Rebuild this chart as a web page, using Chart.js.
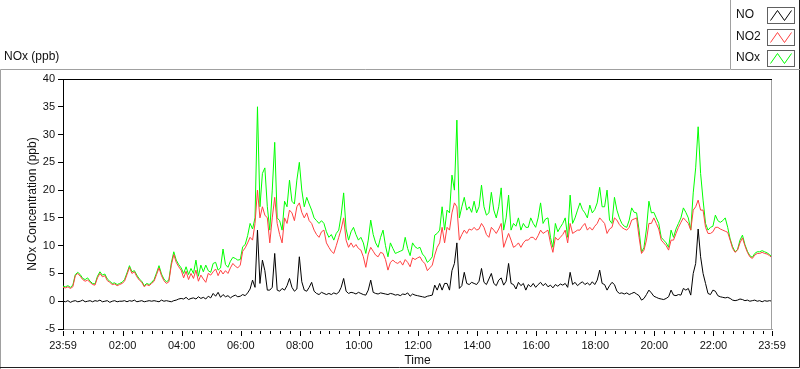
<!DOCTYPE html>
<html>
<head>
<meta charset="utf-8">
<script src="https://cdn.jsdelivr.net/npm/chart.js@4/dist/chart.umd.min.js"></script>
<style>
  body { margin: 0; background: #fff; }
  canvas { display: block; }
</style>
</head>
<body>
<canvas id="nox" width="800" height="369"></canvas>
<script>
// one sample every 5 minutes, starting at 23:59 of the previous day
var stepMinutes = 5;

var seriesNames = ['NO', 'NO2', 'NOx'];
var seriesColors = ['#000000', '#ff4040', '#00ff00'];

var noValues = [
  0, -0.1, 0.1, -0.2, 0, 0.1, -0.1, 0, 0.2, -0.1, 0, 0.1,
  -0.1, 0.1, 0, 0.2, -0.1, 0, 0.1, -0.2, 0, 0.1, -0.1, 0,
  0, 0.1, -0.1, 0.1, 0, 0.2, -0.1, 0, 0.1, -0.1, 0, 0.1,
  0, 0.1, 0, -0.1, 0.2, 0, 0.1, 0, -0.1, 0.1, 0.2, 0.4,
  0.5, 0.4, 0.7, 0.3, 0.5, 0.6, 0.4, 0.8, 0.5, 0.7, 0.4, 0.9,
  0.6, 1.4, 0.9, 1.6, 0.7, 1.2, 0.8, 1.0, 0.6, 0.9, 1.1, 0.8,
  0.9, 1.2, 1.0, 1.5, 2.2, 3.8, 2.5, 12.8, 3.2, 7.4, 5.5, 2.0,
  2.0, 2.5, 8.6, 2.0, 1.8, 2.3, 2.0, 2.8, 4.1, 2.5, 1.8, 2.2,
  8.0, 3.5, 2.0, 1.8, 2.5, 3.4, 1.8, 1.4, 1.2, 1.6, 1.4, 1.2,
  1.4, 1.2, 1.5, 1.3, 1.6, 2.5, 4.1, 1.8, 1.4, 1.6, 1.5, 1.3,
  1.6, 1.4, 1.2, 1.1, 2.0, 3.8, 1.6, 1.4, 1.3, 1.5, 1.4, 1.3,
  1.2, 1.4, 1.3, 1.1, 1.2, 1.0, 1.3, 1.2, 1.5, 0.9, 1.3, 1.1,
  1.0, 0.9, 0.8, 0.7, 0.9, 1.0, 1.1, 2.9, 2.0, 3.2, 2.0, 3.2,
  3.2, 2.0, 5.5, 6.8, 10.5, 2.3, 2.8, 5.2, 3.2, 3.0, 3.4, 3.2,
  3.0, 3.6, 5.9, 3.4, 3.0, 4.0, 5.0, 3.2, 2.8, 3.8, 4.2, 2.9,
  3.6, 6.8, 3.2, 3.0, 2.2, 3.4, 2.8, 3.2, 2.0, 3.0, 2.6, 3.2,
  2.5, 3.0, 3.4, 2.8, 3.2, 2.6, 2.9, 2.4, 3.0, 2.7, 3.1, 2.9,
  3.2, 2.5, 5.2, 3.0, 3.4, 2.8, 3.2, 3.5, 3.0, 3.3, 2.9, 3.5,
  3.0, 3.8, 5.6, 3.2, 3.0, 2.0, 2.8, 3.4, 3.0, 1.8, 1.4, 1.5,
  1.3, 1.5, 1.2, 1.4, 1.6, 1.3, 1.0, 0.2, 0.5, 1.2, 2.0, 1.5,
  0.9, 0.7, 0.5, 0.4, 0.3, 0.5, 0.8, 2.0, 1.1, 1.0, 1.2, 1.1,
  2.3, 2.0, 2.3, 1.1, 5.0, 6.8, 13.0, 8.0, 5.0, 3.2, 1.4, 1.2,
  2.0, 1.8, 1.0, 0.8, 0.7, 0.6, 0.7, 0.5, 0.2, 0.1, 0.2, 0.4,
  0.3, 0.1, 0.2, 0.0, 0.1, 0.2, 0.0, 0.1, -0.1, 0.1, 0.0, 0.1, 0.0
];

var no2Values = [
  2.5, 2.4, 2.6, 2.3, 2.6, 4.6, 5.0, 4.5, 3.9, 3.6, 3.8, 3.4,
  3.0, 2.9, 4.2, 5.0, 4.4, 4.6, 3.7, 3.4, 3.0, 3.1, 2.8, 3.0,
  3.2, 3.6, 4.8, 6.1, 5.0, 5.3, 4.4, 3.8, 3.4, 2.6, 3.0, 2.8,
  3.2, 3.6, 4.8, 6.0, 4.6, 3.7, 3.2, 3.5, 6.5, 8.4, 7.0, 6.2,
  5.6, 4.2, 5.4, 3.9, 5.0, 4.1, 5.6, 3.6, 4.7, 4.0, 3.4, 5.0,
  4.7, 5.3, 5.8, 4.6, 5.6, 4.9, 5.5, 5.0, 6.0, 6.8, 6.3, 6.0,
  6.5, 9.0, 9.6, 10.5, 11.5, 11.0, 14.0, 20.0, 15.0, 17.0, 15.5, 15.0,
  10.5, 15.0, 18.7, 14.0, 12.0, 10.5, 15.0, 14.0, 16.4, 15.9, 14.5, 17.0,
  17.7, 16.0, 15.0, 15.9, 14.5, 14.0, 12.8, 12.0, 11.5, 12.5, 12.8, 10.5,
  9.7, 9.0, 8.6, 10.0, 11.5, 13.0, 15.0, 11.0, 9.7, 10.5, 9.7, 10.2,
  9.5, 9.2, 8.0, 6.1, 8.5, 9.7, 9.0, 8.3, 8.0, 8.8, 8.6, 7.5,
  5.6, 7.0, 7.4, 7.0, 6.8, 7.2, 6.5, 7.5, 7.0, 6.2, 7.8, 7.5,
  7.8, 8.0, 7.2, 6.8, 5.5, 6.0, 6.5, 8.3, 9.7, 10.5, 13.3, 10.5,
  13.3, 12.8, 15.9, 17.7, 17.0, 11.0, 12.0, 12.8, 12.2, 13.0, 12.8, 13.3,
  12.8, 13.0, 14.0, 13.3, 12.0, 11.5, 13.3, 12.8, 12.2, 13.0, 14.0, 9.7,
  11.0, 12.2, 11.0, 9.7, 10.0, 10.5, 9.7, 10.5, 11.0, 11.0, 11.5, 11.5,
  11.0, 11.8, 12.8, 12.2, 12.5, 12.8, 10.5, 8.8, 11.5, 11.0, 11.5, 12.0,
  12.8, 10.5, 14.0, 12.2, 12.5, 12.8, 12.8, 13.5, 14.0, 12.8, 13.3, 12.8,
  13.5, 14.0, 15.0, 14.5, 14.0, 12.2, 13.0, 13.3, 15.0, 14.6, 13.8, 13.3,
  13.0, 12.8, 13.3, 14.6, 14.8, 15.0, 11.5, 8.6, 9.2, 11.0, 14.0, 14.0,
  15.0, 14.0, 13.0, 11.0, 10.5, 10.0, 9.2, 11.0, 11.0, 12.2, 13.3, 14.2,
  15.0, 14.5, 14.0, 12.8, 16.4, 17.0, 18.2, 16.4, 16.4, 13.3, 12.2, 12.2,
  12.5, 13.3, 13.3, 13.0, 12.8, 12.6, 12.4, 11.0, 9.5, 8.8, 9.2, 10.5,
  11.4, 10.0, 8.8, 8.0, 7.7, 8.3, 8.6, 8.6, 8.8, 8.6, 8.5, 8.2, 7.8
];

var noxValues = [
  2.7, 2.6, 2.8, 2.5, 2.9, 4.8, 5.2, 4.8, 4.1, 3.9, 4.2, 3.6,
  3.2, 3.1, 4.5, 5.3, 4.7, 4.9, 4.0, 3.6, 3.2, 3.3, 3.0, 3.2,
  3.4, 3.9, 5.1, 6.4, 5.3, 5.5, 4.7, 4.0, 3.6, 2.8, 3.2, 3.0,
  3.4, 3.9, 5.1, 6.4, 4.9, 4.0, 3.5, 3.8, 6.9, 8.9, 7.4, 6.6,
  6.0, 5.0, 6.2, 4.8, 5.9, 5.0, 7.4, 4.5, 6.5, 5.3, 6.5, 5.5,
  5.2, 6.8, 7.0, 5.6, 6.0, 9.4, 6.6, 6.1, 7.2, 7.9, 7.7, 7.4,
  7.5, 9.8, 10.2, 11.8, 14.0, 13.0, 15.0, 35.0, 17.0, 23.0, 24.0, 17.0,
  12.8, 20.0, 28.6, 15.0, 14.5, 12.8, 18.0, 17.0, 21.8, 18.0, 17.5, 21.8,
  25.0, 20.0, 17.0, 18.7, 17.5, 16.4, 15.0, 14.5, 14.0, 14.5, 14.0, 12.5,
  11.5, 12.0, 11.0, 12.2, 12.8, 15.5, 19.5, 13.0, 11.0, 12.5, 13.3, 12.0,
  11.0, 11.5, 10.5, 8.6, 11.0, 14.6, 12.0, 10.5, 9.7, 11.5, 12.8, 10.0,
  8.0, 10.5, 9.5, 8.6, 8.8, 9.0, 9.2, 11.5, 9.5, 8.2, 10.5, 9.8,
  9.5, 9.7, 8.5, 8.0, 7.0, 7.4, 8.0, 11.9, 12.2, 12.8, 17.0, 12.8,
  16.4, 15.9, 22.7, 20.0, 32.6, 15.0, 17.0, 18.7, 16.4, 17.0, 16.0, 18.0,
  15.9, 17.0, 20.9, 17.0, 15.5, 15.9, 19.6, 16.4, 15.0, 17.0, 20.4, 12.8,
  15.0, 19.1, 12.8, 14.0, 13.5, 15.0, 12.8, 14.0, 13.3, 13.3, 15.0, 14.0,
  13.3, 15.0, 17.7, 14.0, 14.8, 15.0, 11.5, 9.7, 14.0, 12.5, 13.3, 14.0,
  15.0, 11.5, 19.1, 14.0, 15.0, 16.4, 17.7, 16.5, 15.9, 15.0, 17.3, 15.9,
  16.5, 17.7, 20.5, 17.0, 17.0, 20.0, 14.6, 14.0, 18.7, 16.4, 15.0, 14.0,
  13.5, 13.3, 14.6, 16.8, 16.0, 15.9, 12.8, 8.8, 9.7, 13.0, 18.0, 15.9,
  16.0, 15.0, 14.0, 11.5, 11.0, 10.5, 9.7, 12.8, 11.5, 13.0, 14.0, 15.0,
  16.8, 16.0, 15.0, 12.8, 19.5, 24.0, 31.4, 23.0, 18.2, 14.0, 12.8, 13.3,
  13.5, 15.5, 14.5, 14.2, 14.5, 15.0, 13.3, 11.2, 9.8, 8.9, 9.3, 11.0,
  11.9, 10.2, 9.0, 8.2, 7.9, 8.6, 8.9, 8.9, 9.1, 8.9, 8.7, 8.4, 8.0
];

// x ticks in minutes after 23:59
var xTickMinutes = [0, 121, 241, 361, 481, 601, 721, 841, 961, 1081, 1201, 1321, 1440];
var xTickLabels = ['23:59', '02:00', '04:00', '06:00', '08:00', '10:00', '12:00',
                   '14:00', '16:00', '18:00', '20:00', '22:00', '23:59'];
var yMin = -5, yMax = 40, yStep = 5;

function toPoints(values) {
  return values.map(function(v, i) { return { x: i * stepMinutes, y: v }; });
}

var FONT = '"Liberation Sans", Arial, sans-serif';
Chart.defaults.font.family = FONT;
Chart.defaults.font.size = 11;
Chart.defaults.color = '#111';

// frame, plot border, minor x ticks, title and legend like the original panel
var panelPlugin = {
  id: 'panel',
  afterDraw: function(chart) {
    var ctx = chart.ctx;
    var a = chart.chartArea;
    var xs = chart.scales.x;
    ctx.save();
    ctx.lineWidth = 1;

    // outer frame
    ctx.strokeStyle = '#a0a0a0';
    ctx.beginPath();
    ctx.moveTo(730, 69.5); ctx.lineTo(0.5, 69.5); ctx.lineTo(0.5, 369);
    ctx.stroke();
    ctx.strokeStyle = '#202020';
    ctx.beginPath();
    ctx.moveTo(0, 367.5); ctx.lineTo(799.5, 367.5); ctx.lineTo(799.5, 0);
    ctx.stroke();

    // plot border: top dark, right grey
    ctx.strokeStyle = '#000';
    ctx.beginPath();
    ctx.moveTo(a.left - 1, a.top + 0.5); ctx.lineTo(a.right, a.top + 0.5);
    ctx.stroke();
    ctx.strokeStyle = '#a0a0a0';
    ctx.beginPath();
    ctx.moveTo(a.right - 0.5, a.top + 1); ctx.lineTo(a.right - 0.5, a.bottom);
    ctx.stroke();

    // x ticks, every 20 minutes, longer at the labelled ones
    ctx.strokeStyle = '#000';
    ctx.beginPath();
    var marks = [0, 1440];
    for (var m = 1; m < 1440; m += 20) marks.push(m);
    marks.forEach(function(m) {
      var px = Math.round(xs.getPixelForValue(m)) + 0.5;
      var major = xTickMinutes.indexOf(m) >= 0;
      ctx.moveTo(px, a.bottom + 2);
      ctx.lineTo(px, a.bottom + (major ? 7 : 5));
    });
    ctx.stroke();

    // graph caption
    ctx.fillStyle = '#111';
    ctx.font = '12px ' + FONT;
    ctx.textBaseline = 'middle';
    ctx.textAlign = 'left';
    ctx.fillText('NOx (ppb)', 4, 57);

    // legend panel
    ctx.strokeStyle = '#a0a0a0';
    ctx.beginPath();
    ctx.moveTo(730.5, 0); ctx.lineTo(730.5, 69.5); ctx.lineTo(800, 69.5);
    ctx.stroke();
    var rowY = [15, 36.5, 58];
    chart.data.datasets.forEach(function(ds, k) {
      var cy = rowY[k];
      ctx.fillStyle = '#111';
      ctx.fillText(ds.label, 736, cy);
      var bx = 767.5, by = Math.round(cy - 8) + 0.5, bw = 27, bh = 16;
      ctx.strokeStyle = '#606060';
      ctx.strokeRect(bx, by, bw, bh);
      ctx.strokeStyle = ds.borderColor;
      ctx.beginPath();
      ctx.moveTo(bx + 3, by + bh - 3);
      ctx.lineTo(bx + 10, by + 3);
      ctx.lineTo(bx + 17, by + bh - 3);
      ctx.lineTo(bx + 24, by + 3);
      ctx.stroke();
    });
    ctx.restore();
  }
};

new Chart(document.getElementById('nox').getContext('2d'), {
  type: 'line',
  data: {
    datasets: [
      { label: seriesNames[0], data: toPoints(noValues), borderColor: seriesColors[0] },
      { label: seriesNames[1], data: toPoints(no2Values), borderColor: seriesColors[1] },
      { label: seriesNames[2], data: toPoints(noxValues), borderColor: seriesColors[2] }
    ]
  },
  options: {
    responsive: false,
    animation: false,
    events: [],
    layout: { padding: { top: 79, right: 28, left: 0, bottom: 0 } },
    elements: {
      line: { borderWidth: 1, tension: 0 },
      point: { radius: 0 }
    },
    plugins: {
      legend: { display: false },
      tooltip: { enabled: false }
    },
    scales: {
      x: {
        type: 'linear',
        min: 0,
        max: 1440,
        afterBuildTicks: function(scale) {
          scale.ticks = xTickMinutes.map(function(v) { return { value: v }; });
        },
        afterFit: function(scale) { scale.height = 40; },
        ticks: {
          autoSkip: false,
          maxRotation: 0,
          padding: 10,
          callback: function(v) {
            var k = xTickMinutes.indexOf(v);
            return k >= 0 ? xTickLabels[k] : '';
          }
        },
        grid: { display: false, drawTicks: false },
        border: { display: true, color: '#a0a0a0' },
        title: { display: true, text: 'Time', font: { size: 12 }, padding: { top: 0, bottom: 1 } }
      },
      y: {
        min: yMin,
        max: yMax,
        afterFit: function(scale) { scale.width = 63; },
        ticks: { stepSize: yStep, padding: 3 },
        grid: { drawOnChartArea: false, drawTicks: true, tickLength: 5, color: '#000' },
        border: { display: true, color: '#000' },
        title: { display: true, text: 'NOx Concentration (ppb)', font: { size: 12 }, padding: { top: 25, bottom: 0 } }
      }
    }
  },
  plugins: [panelPlugin]
});
</script>
</body>
</html>
